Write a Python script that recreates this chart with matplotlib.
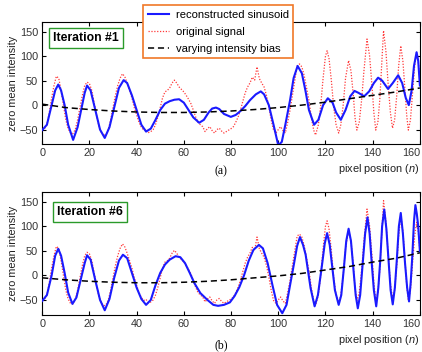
import matplotlib
matplotlib.use("Agg")
import matplotlib.pyplot as plt

plt.rcParams['font.family'] = ['Liberation Sans', 'DejaVu Sans']
plt.rcParams['mathtext.fontset'] = 'custom'
plt.rcParams['mathtext.it'] = 'Liberation Sans:italic'

# original signal (same in both panels)
orig_n = [0, 1, 2, 3, 4, 5, 6, 7, 8, 9, 10, 11, 12, 13, 14, 15, 16, 17, 18, 19,
          20, 21, 22, 23, 24, 25, 26, 27, 28, 29, 30, 31, 32, 33, 34, 35, 36, 37, 38, 39,
          40, 41, 42, 43, 44, 45, 46, 47, 48, 49, 50, 51, 52, 53, 54, 55, 56, 57, 58, 59,
          60, 61, 62, 63, 64, 65, 66, 67, 68, 69, 70, 71, 72, 73, 74, 75, 76, 77, 78, 79,
          80, 81, 82, 83, 84, 85, 86, 87, 88, 89, 90, 91, 92, 93, 94, 95, 96, 97, 98, 99,
          100, 101, 102, 103, 104, 105, 106, 107, 108, 109, 110, 111, 112, 113, 114,
          115, 115.8, 117, 118, 119, 120, 120.7, 121.5, 122.5, 123.5, 124.5, 125.6,
          126.5, 127.5, 128.5, 129.8, 130.8, 131.8, 132.5, 133.3, 134.3, 135.3, 136.3,
          137.6, 138.7, 139.7, 140.5, 141.3, 142.2, 143, 143.8, 144.6, 145.6, 146.6,
          147.5, 148.4, 149.3, 150.2, 151, 151.9, 152.8, 153.7, 154.4, 155.1, 156, 157,
          157.8, 158.6, 159.3, 160]
orig_v = [-50, -48, -40, -15, 15, 40, 59, 55, 30, 0, -30, -48, -57, -58, -50, -30, -5, 20, 40, 47,
          44, 30, 5, -20, -42, -55, -62, -60, -50, -30, -5, 20, 40, 55, 64, 58, 45, 30, 15, -5,
          -20, -35, -45, -51, -49, -56, -54, -50, -40, -24, -5, 15, 27, 30, 35, 45, 51, 45, 37, 32,
          27, 20, 12, 3, -10, -24, -35, -40, -44, -54, -48, -44, -52, -57, -50, -47, -53, -57, -54, -51,
          -48, -44, -35, -24, -10, 8, 25, 37, 45, 57, 51, 78, 54, 45, 37, 20, -3, -30, -51, -57,
          -50, -44, -52, -57, -35, -10, 20, 51, 80, 84, 78, 60, 35, 10, -25,
          -51, -61, -40, 0, 55, 100, 111, 95, 50, -5, -40, -57,
          -40, 0, 55, 91, 70, 20, -25, -51, -35, 10, 70,
          135, 100, 40, -15, -51, -35, 10, 80, 152, 110, 40,
          -15, -47, -30, 20, 80, 121, 90, 30, -20, -51, -30, 30,
          80, 108, 90, 50]

# reconstructed sinusoid, iteration #1
rec1_n = [0, 2, 4, 5.5, 6.8, 8, 9.5, 11, 13.1, 15, 16.5, 18, 19, 20.5, 22.5, 24.5, 26.5, 28.5,
          30.5, 32.5, 34.5, 36, 38, 40, 42, 44, 46, 48, 50, 52, 54, 56, 58, 60, 62, 64, 66.5,
          68.5, 70.5, 72, 73.6, 75, 77, 79.9, 82, 84, 86, 88, 90.5, 92.6, 94, 96, 98, 100,
          101.5, 103, 105, 106.5, 108.2, 110, 111.5, 113, 115.2, 117, 119, 121, 123, 124.5,
          126.5, 128.5, 130.5, 132.3, 134, 136.4, 138.5, 140.5, 142.3, 144, 146.5, 148.5,
          150.8, 152.5, 154, 155.3, 156.5, 157.5, 158.6, 159.3, 160]
rec1_v = [-51, -40, 0, 30, 42, 30, 0, -40, -71, -45, -10, 25, 40, 30, -10, -50, -67, -45,
          -5, 35, 51, 45, 20, -10, -40, -54, -48, -30, -10, 3, 8, 11, 12, 5, -10, -25, -36,
          -30, -15, -7, -5, -8, -18, -24, -20, -12, -2, 10, 22, 28, 22, 0, -40, -82,
          -75, -40, 10, 55, 80, 65, 30, -10, -40, -30, 0, 14, 5, -15,
          -30, -10, 18, 29, 25, 18, 28, 45, 56, 50, 33, 45,
          61, 45, 15, 0, 30, 80, 108, 90, 40]

# reconstructed sinusoid, iteration #6
rec6_n = [0, 2, 4, 5.5, 6.8, 8, 9.5, 11, 12.8, 14.5, 16.5, 18, 19, 20.5, 22.5, 24.5, 26.5,
          28.5, 30.5, 32.5, 34.2, 36, 38, 40, 42, 44, 46, 48, 50, 52, 54, 56.5, 58.5, 60.5,
          62.5, 64.5, 67, 70, 72.5, 74.5, 77, 79.5, 81.5, 83.5, 85.5, 87.5, 89.5, 91.8, 93.5,
          95.5, 97.5, 99.5, 101.7, 103.5, 105, 106.6, 108, 109.2, 110.5, 111.6, 113.7, 115.4,
          116.8, 118.5, 119.7, 120.7, 121.8, 122.8, 124, 125.6, 126.7, 127.8, 128.8, 129.8,
          130.8, 131.8, 132.8, 133.7, 134.7, 135.7, 136.8, 137.8, 138.7, 139.6, 140.5, 141.5,
          142.4, 143.2, 144, 144.9, 145.8, 146.8, 147.6, 148.5, 149.4, 150.2, 151.1, 151.9,
          152.8, 153.7, 154.6, 155.4, 156.1, 156.8, 157.5, 158.1, 158.7, 159.3, 160]
rec6_v = [-52, -40, 0, 40, 54, 40, 5, -35, -58, -45, -5, 25, 41, 32, -10, -50, -71,
          -48, -5, 30, 42, 35, 5, -25, -48, -60, -50, -20, 5, 22, 32, 39, 37, 25,
          5, -16, -36, -50, -60, -62, -60, -55, -42, -24, 0, 30, 52, 62, 55,
          25, -19, -60, -77, -60, -20, 22, 60, 78, 62, 42, -26, -63,
          -40, 20, 65, 86, 62, 20, -30, -60, -40, 15, 70, 95,
          70, 15, -40, -67, -40, 20, 85, 118, 85, 25, -30, -63,
          -25, 30, 100, 134, 95, 25, -30, -59, -25, 30, 100, 127,
          85, 25, -25, -53, -15, 40, 110, 143, 125, 100, 49]

# varying intensity bias
bias_n = [0, 10, 20, 30, 40, 50, 60, 70, 80, 90, 100, 110, 120, 130, 140, 150, 160]
bias1_v = [2, -5, -9, -12, -14, -15, -15, -14, -12, -9, -5, 0, 6, 13, 20, 27, 35]
bias6_v = [-5, -9, -12, -14, -15, -15, -14, -12, -9, -5, -1, 4, 11, 18, 27, 35, 46]

x_ticks = [0, 20, 40, 60, 80, 100, 120, 140, 160]
y_ticks = [-50, 0, 50, 100, 150]


def draw_panel(ax, rec_n, rec_v, bias_v, title, title_xy):
    ax.plot(rec_n, rec_v, color='#1a1aff', lw=1.5, label='reconstructed sinusoid', zorder=3)
    ax.plot(orig_n, orig_v, color='#ff3a3a', lw=0.9, ls=(0, (1, 1.3)), label='original signal', zorder=2)
    ax.plot(bias_n, bias_v, color='black', lw=1.1, ls=(0, (4, 2.5)), label='varying intensity bias', zorder=4)
    ax.set_xlim(0, 160)
    ax.set_ylim(-80, 170)
    ax.set_xticks(x_ticks)
    ax.set_yticks(y_ticks)
    ax.tick_params(direction='in', top=True, right=True, length=3, width=0.8,
                   labelsize=7.8, labelcolor='#333333', pad=3)
    # last label would run off the figure edge
    ax.get_xticklabels()[-1].set_horizontalalignment('right')
    ax.set_ylabel('zero mean intensity', fontsize=7.8, color='#222222', labelpad=1)
    ax.text(0.999, -0.205, 'pixel position ($\\mathit{n}$)', transform=ax.transAxes,
            ha='right', va='center', fontsize=7.9, color='#222222')
    ax.text(title_xy[0], title_xy[1], title,
            transform=ax.transAxes, ha='center', va='center', fontsize=8.8, fontweight='bold',
            bbox=dict(boxstyle='square,pad=0.32', facecolor='white', edgecolor='#2a9a2a', lw=1.0))


fig = plt.figure(figsize=(4.22, 3.52), dpi=100)
ax1 = fig.add_axes([0.100, 0.590, 0.895, 0.348])
ax2 = fig.add_axes([0.100, 0.106, 0.895, 0.349])

draw_panel(ax1, rec1_n, rec1_v, bias1_v, 'Iteration #1', (0.116, 0.865))
draw_panel(ax2, rec6_n, rec6_v, bias6_v, 'Iteration #6', (0.126, 0.839))

leg = ax1.legend(loc='upper left', bbox_to_anchor=(0.339, 0.985), bbox_transform=fig.transFigure,
                 fontsize=8.1, frameon=True, fancybox=False, handlelength=1.9, handletextpad=0.6,
                 labelspacing=0.62, borderpad=0.4, borderaxespad=0)
leg.get_frame().set_edgecolor('#f07828')
leg.get_frame().set_linewidth(1.2)
leg.get_frame().set_alpha(1)
leg.set_zorder(10)

fig.text(0.524, 0.512, '(a)', ha='center', va='center', fontsize=8.5, family='Liberation Serif')
fig.text(0.524, 0.020, '(b)', ha='center', va='center', fontsize=8.5, family='Liberation Serif')

fig.savefig('out.png', dpi=100)
